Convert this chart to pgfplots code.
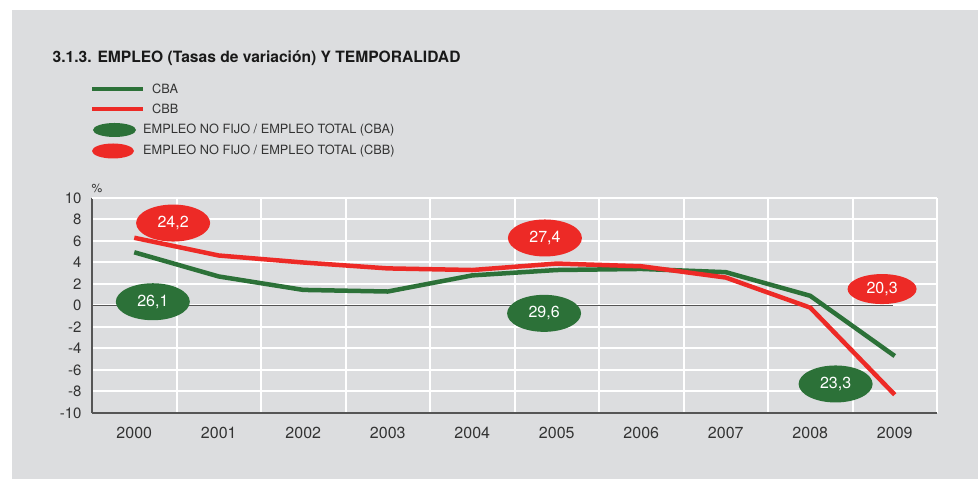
\documentclass[border=0pt]{standalone}
\usepackage{pgfplots}
\pgfplotsset{compat=1.18}
\usepackage{fontspec}
\setmainfont{TeX Gyre Heros}
\usetikzlibrary{shapes.geometric}
\definecolor{bggray}{RGB}{220,221,223}
\definecolor{cbared}{RGB}{237,42,38}
\definecolor{cbagreen}{RGB}{44,113,56}
\definecolor{axgray}{RGB}{85,85,85}
\definecolor{txtgray}{RGB}{51,51,51}
\begin{document}
\begin{tikzpicture}[x=1bp,y=1bp]
\fill[white] (0,0) rectangle (978,479);
\fill[bggray] (12,0) rectangle (978,469);
\node[anchor=base west, inner sep=0pt, text=black!90, font=\fontsize{15.6bp}{15.6bp}\selectfont\bfseries] at (52.5,416) {3.1.3. EMPLEO (Tasas de variación) Y TEMPORALIDAD};
% legend
\draw[cbagreen, line width=4bp] (92,389.7) -- (143,389.7);
\draw[cbared, line width=4bp] (92,370.3) -- (143,370.3);
\fill[cbagreen] (114.5,349) ellipse [x radius=21.5, y radius=7];
\fill[cbared] (113,328) ellipse [x radius=21, y radius=7.5];
\begin{scope}[every node/.style={anchor=west, inner sep=0pt, text=txtgray, font=\fontsize{12.75bp}{12.75bp}\selectfont}]
\node at (152,389.7) {CBA};
\node at (152,370.3) {CBB};
\node at (143,349) {EMPLEO NO FIJO / EMPLEO TOTAL (CBA)};
\node at (143,328) {EMPLEO NO FIJO / EMPLEO TOTAL (CBB)};
\end{scope}
\node[inner sep=0pt, text=txtgray, font=\fontsize{12bp}{12bp}\selectfont] at (97,291) {\%};
\begin{axis}[
  at={(92bp,66bp)}, anchor=south west,
  width=845bp, height=215bp, scale only axis,
  xmin=-0.5, xmax=9.5, ymin=-10, ymax=10,
  clip=false,
  axis x line*=bottom, axis y line*=left,
  axis line style={axgray, line width=1.2bp, -},
  xtick={0,...,9},
  xticklabels={2000,2001,2002,2003,2004,2005,2006,2007,2008,2009},
  minor xtick={0.5,1.5,...,9.5},
  ytick={-10,-8,...,10},
  extra y ticks={10}, extra y tick labels={},
  extra y tick style={grid=major},
  ymajorgrids, xminorgrids,
  major grid style={white, line width=2bp},
  minor grid style={white, line width=2bp},
  major tick length=0pt, minor tick length=0pt,
  tick style={draw=none},
  xticklabel style={text=txtgray, font=\fontsize{16bp}{16bp}\selectfont, yshift=-11bp},
  yticklabel style={text=txtgray, font=\fontsize{15bp}{15bp}\selectfont, xshift=-7bp},
  /pgf/number format/assume math mode=true,
]
\addplot[axgray, line width=0.9bp] coordinates {(-0.5,0) (8.98,0)};
\addplot[cbagreen, line width=4.5bp, line join=round] coordinates {
(0,4.95) (1,2.7) (2,1.45) (3,1.3) (4,2.8) (5,3.3) (6,3.4) (7,3.1) (8,0.9) (9,-4.7)};
\addplot[cbared, line width=4.5bp, line join=round] coordinates {
(0,6.3) (1,4.65) (2,4.0) (3,3.45) (4,3.3) (5,3.9) (6,3.65) (7,2.6) (8,-0.2) (9,-8.3)};
\addplot[draw=none, nodes near coords, point meta=explicit symbolic, nodes near coords align=center,
  every node near coord/.append style={ellipse, fill=cbagreen, text=white, minimum width=74bp, minimum height=37bp, inner sep=0pt, anchor=center, font=\fontsize{16bp}{16bp}\selectfont}]
  coordinates {(0.22,0.35) [26{,}1] (4.85,-0.73) [29{,}6] (8.30,-7.3) [23{,}3]};
\addplot[draw=none, nodes near coords, point meta=explicit symbolic, nodes near coords align=center,
  every node near coord/.append style={ellipse, fill=cbared, text=white, minimum width=74bp, minimum height=37bp, inner sep=0pt, anchor=center, font=\fontsize{16bp}{16bp}\selectfont}]
  coordinates {(0.46,7.67) [24{,}2] (4.86,6.28) [27{,}4]};
\addplot[draw=none, nodes near coords, point meta=explicit symbolic, nodes near coords align=center,
  every node near coord/.append style={ellipse, fill=cbared, text=white, minimum width=69bp, minimum height=30bp, inner sep=0pt, anchor=center, font=\fontsize{16bp}{16bp}\selectfont}]
  coordinates {(8.85,1.53) [20{,}3]};
\end{axis}
\end{tikzpicture}
\end{document}
